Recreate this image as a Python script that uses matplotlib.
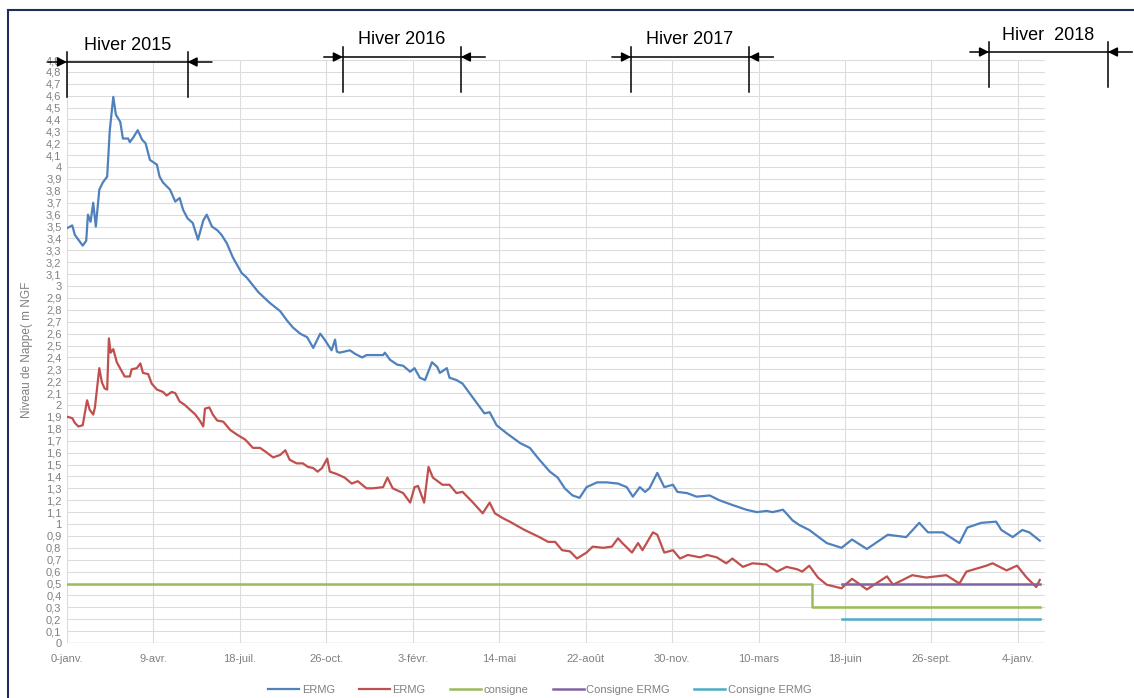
import matplotlib
matplotlib.use("Agg")
import matplotlib.pyplot as plt
import matplotlib.transforms as mtransforms
from matplotlib.patches import Rectangle

plt.rcParams['font.family'] = ['Liberation Sans', 'DejaVu Sans']

# jours depuis le debut de la serie
ermg1_j = [1, 6, 9, 13, 18, 22, 24, 27, 30, 33, 37, 41, 46, 49, 53, 56, 61, 64, 70, 72,
           76, 81, 86, 90, 95, 103, 106, 110, 118, 124, 129, 133, 138, 144, 150, 156, 160,
           166, 172, 177, 183, 190, 200, 206, 219, 232, 244, 252, 259, 267, 275, 282, 290,
           295, 303, 307, 309, 312, 324, 330, 338, 343, 362, 364, 370, 378, 385, 393, 398,
           404, 410, 418, 424, 427, 435, 438, 446, 453, 465, 473, 478, 484, 492, 504, 519,
           530, 541, 553, 562, 570, 579, 587, 595, 607, 618, 631, 641, 648, 656, 662, 667,
           676, 684, 694, 699, 710, 721, 736, 747, 762, 778, 790, 801, 808, 820, 831, 839,
           850, 870, 887, 899, 916, 940, 961, 976, 986, 1003, 1022, 1031, 1047, 1064, 1070,
           1083, 1094, 1102, 1114]
ermg1_v = [3.49, 3.51, 3.43, 3.39, 3.34, 3.38, 3.60, 3.54, 3.70, 3.50, 3.81, 3.87, 3.92,
           4.31, 4.59, 4.44, 4.38, 4.24, 4.24, 4.21, 4.25, 4.31, 4.23, 4.20, 4.06, 4.02,
           3.92, 3.87, 3.81, 3.71, 3.74, 3.64, 3.57, 3.53, 3.39, 3.55, 3.60, 3.50, 3.47,
           3.43, 3.36, 3.24, 3.11, 3.07, 2.95, 2.86, 2.79, 2.71, 2.65, 2.60, 2.57, 2.48,
           2.60, 2.55, 2.46, 2.55, 2.45, 2.44, 2.46, 2.43, 2.40, 2.42, 2.42, 2.44, 2.38,
           2.34, 2.33, 2.28, 2.31, 2.23, 2.21, 2.36, 2.32, 2.27, 2.31, 2.23, 2.21, 2.18,
           2.06, 1.98, 1.93, 1.94, 1.83, 1.76, 1.68, 1.64, 1.54, 1.44, 1.39, 1.30, 1.24,
           1.22, 1.31, 1.35, 1.35, 1.34, 1.31, 1.23, 1.31, 1.27, 1.30, 1.43, 1.31, 1.33,
           1.27, 1.26, 1.23, 1.24, 1.20, 1.16, 1.12, 1.10, 1.11, 1.10, 1.12, 1.03, 0.99,
           0.95, 0.84, 0.80, 0.87, 0.79, 0.91, 0.89, 1.01, 0.93, 0.93, 0.84, 0.97, 1.01,
           1.02, 0.95, 0.89, 0.95, 0.93, 0.86]

ermg2_j = [1, 6, 9, 13, 18, 23, 26, 30, 32, 37, 40, 43, 46, 48, 50, 53, 57, 63, 66, 72,
           74, 80, 84, 87, 93, 97, 103, 110, 114, 120, 124, 129, 135, 141, 147, 152, 156,
           158, 163, 167, 172, 179, 187, 195, 204, 213, 221, 227, 236, 244, 250, 255, 263,
           270, 276, 282, 287, 292, 298, 301, 309, 318, 326, 333, 343, 350, 362, 367, 373,
           385, 393, 398, 402, 409, 414, 419, 430, 438, 446, 453, 465, 476, 484, 490, 499,
           507, 524, 541, 551, 559, 567, 576, 584, 595, 602, 614, 624, 631, 636, 647, 654,
           659, 671, 676, 684, 694, 702, 711, 725, 733, 744, 755, 762, 774, 785, 801, 813,
           824, 836, 842, 850, 860, 870, 887, 899, 916, 939, 946, 968, 984, 1007, 1022,
           1030, 1053, 1060, 1076, 1088, 1099, 1110, 1114]
ermg2_v = [1.90, 1.89, 1.85, 1.82, 1.83, 2.04, 1.96, 1.92, 1.98, 2.31, 2.19, 2.14, 2.13,
           2.56, 2.44, 2.47, 2.36, 2.28, 2.24, 2.24, 2.30, 2.31, 2.35, 2.27, 2.26, 2.18,
           2.13, 2.11, 2.08, 2.11, 2.10, 2.03, 2.00, 1.96, 1.92, 1.87, 1.82, 1.97, 1.98,
           1.92, 1.87, 1.86, 1.79, 1.75, 1.71, 1.64, 1.64, 1.61, 1.56, 1.58, 1.62, 1.54,
           1.51, 1.51, 1.48, 1.47, 1.44, 1.47, 1.55, 1.44, 1.42, 1.39, 1.34, 1.36, 1.30,
           1.30, 1.31, 1.39, 1.30, 1.26, 1.18, 1.31, 1.32, 1.18, 1.48, 1.39, 1.33, 1.33,
           1.26, 1.27, 1.18, 1.09, 1.18, 1.09, 1.05, 1.02, 0.95, 0.89, 0.85, 0.85, 0.78,
           0.77, 0.71, 0.76, 0.81, 0.80, 0.81, 0.88, 0.84, 0.76, 0.84, 0.78, 0.93, 0.91,
           0.76, 0.78, 0.71, 0.74, 0.72, 0.74, 0.72, 0.67, 0.71, 0.64, 0.67, 0.66, 0.60,
           0.64, 0.62, 0.60, 0.65, 0.55, 0.49, 0.46, 0.54, 0.45, 0.56, 0.49, 0.57, 0.55,
           0.57, 0.50, 0.60, 0.65, 0.67, 0.61, 0.65, 0.55, 0.47, 0.53]

consigne_j = [0, 853, 853, 1114]
consigne_v = [0.5, 0.5, 0.3, 0.3]
consigne1_j = [888, 1114]
consigne1_v = [0.5, 0.5]
consigne2_j = [888, 1114]
consigne2_v = [0.2, 0.2]

xticks = [0, 99, 198, 297, 396, 495, 594, 693, 792, 891, 990, 1089]
xlabels = ['0-janv.', '9-avr.', '18-juil.', '26-oct.', '3-févr.', '14-mai', '22-août',
           '30-nov.', '10-mars', '18-juin', '26-sept.', '4-janv.']

hivers = ['Hiver 2015', 'Hiver 2016', 'Hiver 2017', 'Hiver  2018']
hiver_debut = [0, 316, 646, 1056]
hiver_fin = [138, 451, 781, 1192]

fig = plt.figure(figsize=(11.34, 6.98), dpi=100)
ax = fig.add_axes([67 / 1134, 1 - 643 / 698, (1045 - 67) / 1134, (643 - 60) / 698])

ax.plot(ermg1_j, ermg1_v, color='#4f81bd', lw=1.6, label='ERMG')
ax.plot(ermg2_j, ermg2_v, color='#c0504d', lw=1.6, label='ERMG')
ax.plot(consigne_j, consigne_v, color='#9bbb59', lw=1.8, label='consigne')
ax.plot(consigne1_j, consigne1_v, color='#8064a2', lw=1.8, label='Consigne ERMG')
ax.plot(consigne2_j, consigne2_v, color='#4bacc6', lw=1.8, label='Consigne ERMG')

ax.set_xlim(0, 1120)
ax.set_ylim(0, 4.9)
ax.set_xticks(xticks)
ax.set_xticklabels(xlabels)
yt = [i / 10 for i in range(50)]
ax.set_yticks(yt)
ax.set_yticklabels([('%.1f' % v).rstrip('0').rstrip('.').replace('.', ',') if v else '0' for v in yt])
ax.tick_params(length=0, labelsize=8, colors='#808080', pad=4)
ax.tick_params(axis='x', pad=8)
ax.grid(True, color='#dcdcdc', lw=0.8)
ax.set_axisbelow(True)
for s in ax.spines.values():
    s.set_visible(False)
ax.axhline(0, color='#d0d0d0', lw=1)

fig.text(27 / 1134, 1 - 350 / 698, 'Niveau de Nappe( m NGF', rotation=90, ha='center',
         va='center', fontsize=8.5, color='#808080')

# marqueurs d'hiver
trans = mtransforms.blended_transform_factory(ax.transData, fig.transFigure)
ys = [62, 57, 57, 52]
for lab, d0, d1, yp in zip(hivers, hiver_debut, hiver_fin, ys):
    yh = 1 - yp / 698
    ax.plot([d0, d0], [yh + 10 / 698, yh - 35 / 698], color='black', lw=1.1,
            transform=trans, clip_on=False)
    ax.plot([d1, d1], [yh + 10 / 698, yh - 35 / 698], color='black', lw=1.1,
            transform=trans, clip_on=False)
    ax.plot([d0, d1], [yh, yh], color='black', lw=1.1, transform=trans, clip_on=False)
    ax.annotate('', xy=(d0, yh), xytext=(d0 - 22, yh), xycoords=trans, textcoords=trans,
                arrowprops=dict(arrowstyle='-|>', color='black', lw=1.1, mutation_scale=14,
                                shrinkA=0, shrinkB=0), annotation_clip=False)
    ax.annotate('', xy=(d1, yh), xytext=(d1 + 28, yh), xycoords=trans, textcoords=trans,
                arrowprops=dict(arrowstyle='-|>', color='black', lw=1.1, mutation_scale=14,
                                shrinkA=0, shrinkB=0), annotation_clip=False)
    ax.text((d0 + d1) / 2, yh + 17 / 698, lab, transform=trans, ha='center', va='center',
            fontsize=13, color='black', clip_on=False)

fig.patches.append(Rectangle((8 / 1134, -0.05), 1.2, 1 - 10 / 698 + 0.05,
                             transform=fig.transFigure, fill=False, ec='#1f2d5a', lw=1.5))

leg = fig.legend(loc='center', bbox_to_anchor=(0.476, 0.012), ncol=5, frameon=False,
                 fontsize=8, handlelength=2.8, handletextpad=0.2, columnspacing=2.2)
for t in leg.get_texts():
    t.set_color('#808080')

fig.savefig('out.png', dpi=100)
